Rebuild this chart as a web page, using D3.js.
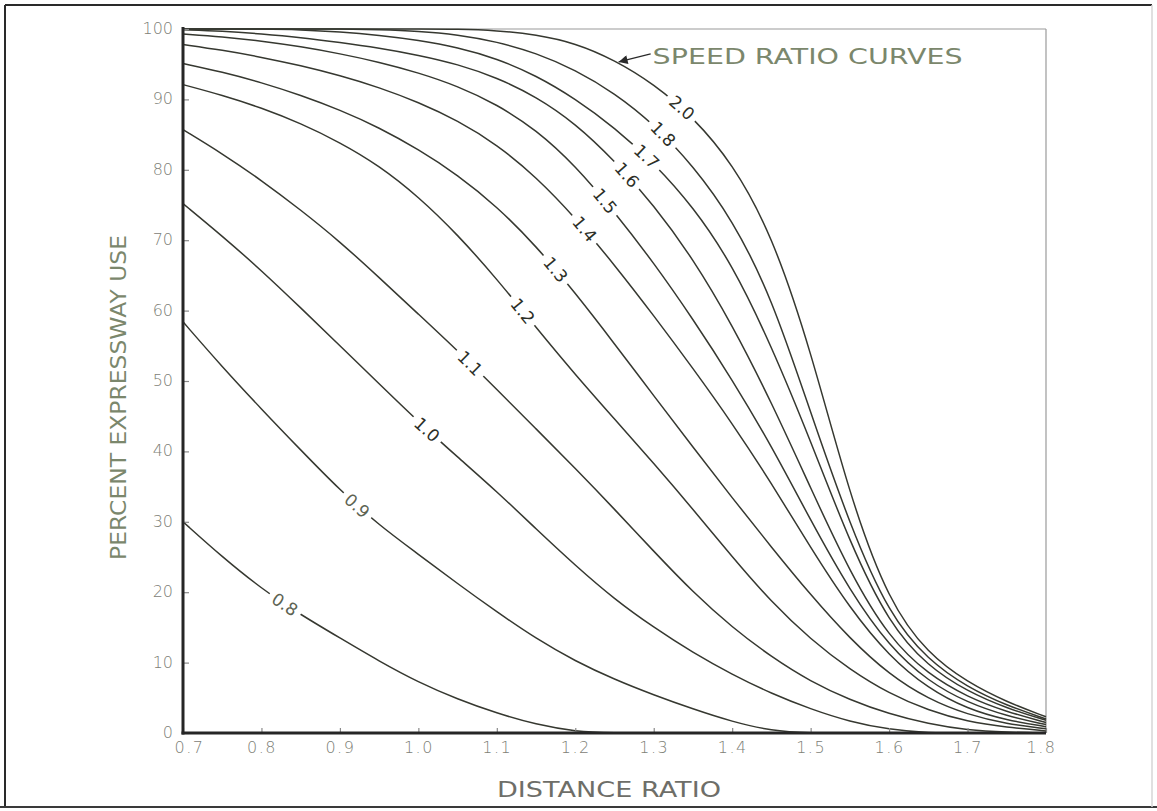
<!DOCTYPE html>
<html>
<head>
<meta charset="utf-8">
<script src="https://cdn.jsdelivr.net/npm/d3@7"></script>
<style>
  html, body { margin: 0; padding: 0; background: #ffffff; }
  svg { display: block; }
</style>
</head>
<body>
<svg id="chart" width="1157" height="811"></svg>
<script>
// ---------------- DATA ----------------
const distanceRatio = [0.70,0.75,0.80,0.85,0.90,0.95,1.00,1.05,1.10,1.15,1.20,1.25,1.30,1.35,1.40,1.45,1.50,1.55,1.60,1.65,1.70,1.75,1.80];

const speedRatios = ["0.8","0.9","1.0","1.1","1.2","1.3","1.4","1.5","1.6","1.7","1.8","2.0"];

// Percent expressway use for each speed ratio curve, at the distance ratios above
const use08 = [30.0,25.0,20.5,16.8,13.5,10.2,7.2,4.8,2.8,1.2,0.2,0,0,0,0,0,0,0,0,0,0,0,0];
const use09 = [58.4,52.0,46.0,40.2,34.5,29.5,25.4,21.2,17.2,13.4,10.2,7.6,5.4,3.4,1.6,0.3,0,0,0,0,0,0,0];
const use10 = [75.2,70.6,65.7,60.4,55.0,49.6,44.2,39.2,34.3,29.0,23.8,19.0,15.0,11.4,8.3,5.6,3.4,1.6,0.5,0,0,0,0];
const use11 = [85.7,82.3,78.5,74.3,69.8,64.7,59.5,54.3,48.8,43.2,37.6,31.8,25.8,20.0,15.0,10.8,7.3,4.7,2.7,1.3,0.4,0.1,0];
const use12 = [92.1,90.6,88.8,86.6,83.9,80.6,76.2,70.8,64.5,57.6,50.9,44.6,38.3,31.8,25.0,18.6,13.3,9.0,5.6,3.2,1.6,0.8,0.3];
const use13 = [95.1,93.9,92.4,90.6,88.5,86.0,82.9,79.3,74.8,69.2,62.5,55.3,47.9,40.6,33.4,26.4,19.6,13.4,8.3,4.8,2.6,1.3,0.6];
const use14 = [97.8,97.0,96.0,94.8,93.4,91.7,89.6,87.0,83.6,79.0,73.2,66.5,59.3,51.8,44.0,35.5,26.3,17.7,10.9,6.3,3.4,1.8,0.9];
const use15 = [99.3,98.9,98.3,97.5,96.5,95.3,93.8,91.9,89.3,85.7,80.6,74.0,66.8,58.8,50.2,40.8,30.2,20.2,12.3,7.3,4.3,2.4,1.2];
const use16 = [99.9,99.7,99.3,98.8,98.1,97.3,96.3,95.0,93.1,90.4,86.6,81.3,75.0,67.4,58.0,47.0,34.8,22.8,13.5,8.3,5.1,3.0,1.5];
const use17 = [100,100,100,99.9,99.6,99.1,98.4,97.4,95.8,93.4,90.1,86.0,81.0,74.8,66.6,55.0,41.5,27.0,15.5,9.4,5.9,3.5,1.8];
const use18 = [100,100,100,100,100,99.9,99.7,99.2,98.2,96.6,94.2,90.9,86.5,80.6,73.0,62.0,45.5,29.5,16.8,10.3,6.5,3.9,2.0];
const use20 = [100,100,100,100,100,100,100,100,99.8,99.2,98.0,95.6,92.2,87.5,81.0,71.0,54.5,33.5,18.5,11.2,7.2,4.4,2.3];

// distance ratio at which each curve carries its label
const labelAt = [0.830,0.922,1.011,1.066,1.133,1.175,1.212,1.238,1.266,1.291,1.312,1.336];

const xTicks = [0.7,0.8,0.9,1.0,1.1,1.2,1.3,1.4,1.5,1.6,1.7,1.8];
const xTickLabels = ["0.7","0.8","0.9","1.0","1.1","1.2","1.3","1.4","1.5","1.6","1.7","1.8"];
const yTicks = [0,10,20,30,40,50,60,70,80,90,100];
const yTickLabels = ["0","10","20","30","40","50","60","70","80","90","100"];

const xTitle = "DISTANCE RATIO";
const yTitle = "PERCENT EXPRESSWAY USE";
const legendText = "SPEED RATIO CURVES";
const legendArrowAt = 1.254; // where the legend arrow touches the 2.0 curve

// ---------------- DRAWING ----------------
const curves = [use08,use09,use10,use11,use12,use13,use14,use15,use16,use17,use18,use20];

const svg = d3.select("#chart");
const x = d3.scaleLinear().domain([0.7, 1.8]).range([183, 1046]);
const y = d3.scaleLinear().domain([0, 100]).range([733, 29]);

const curveColor = "#363830";
const greenGray = "#7b876c";
const tickGray = "#7d8076";

// page border (scan frame)
svg.append("line").attr("x1",5).attr("x2",1152).attr("y1",5).attr("y2",5)
  .attr("stroke","#2a2a2a").attr("stroke-width",2);
svg.append("line").attr("x1",5).attr("x2",5).attr("y1",5).attr("y2",807)
  .attr("stroke","#2a2a2a").attr("stroke-width",2);
svg.append("line").attr("x1",0).attr("x2",1157).attr("y1",807).attr("y2",807)
  .attr("stroke","#3a3a3a").attr("stroke-width",2);
svg.append("line").attr("x1",1152).attr("x2",1152).attr("y1",5).attr("y2",807)
  .attr("stroke","#d6d6d6").attr("stroke-width",1.5);

// thin top and right frame of the plot
svg.append("line").attr("x1",x(0.7)).attr("x2",x(1.8)).attr("y1",y(100)).attr("y2",y(100))
  .attr("stroke","#9a9a9a").attr("stroke-width",1.2);
svg.append("line").attr("x1",x(1.8)).attr("x2",x(1.8)).attr("y1",y(100)).attr("y2",y(0))
  .attr("stroke","#9a9a9a").attr("stroke-width",1.2);

// curves
const line = d3.line()
  .x((d, i) => x(distanceRatio[i]))
  .y(d => y(d))
  .curve(d3.curveBasis);

svg.append("g").selectAll("path").data(curves).join("path")
  .attr("d", d => line(d))
  .attr("fill","none")
  .attr("stroke",curveColor)
  .attr("stroke-width",1.5);

// helper: value of a curve at a distance ratio
function valAt(arr, xv) {
  const i = Math.max(0, Math.min(distanceRatio.length - 2, d3.bisectRight(distanceRatio, xv) - 1));
  const t = (xv - distanceRatio[i]) / (distanceRatio[i+1] - distanceRatio[i]);
  return arr[i] + (arr[i+1] - arr[i]) * t;
}

// curve labels, rotated along the curve with a gap
const labG = svg.append("g");
curves.forEach((arr, k) => {
  const xv = labelAt[k];
  const px = x(xv), py = y(valAt(arr, xv));
  const p1 = [x(xv - 0.015), y(valAt(arr, xv - 0.015))];
  const p2 = [x(xv + 0.015), y(valAt(arr, xv + 0.015))];
  const ang = Math.atan2(p2[1] - p1[1], p2[0] - p1[0]) * 180 / Math.PI;
  const g = labG.append("g").attr("transform", `translate(${px},${py}) rotate(${ang})`);
  const rect = g.append("rect").attr("fill","#ffffff");
  const t = g.append("text")
    .attr("text-anchor","middle")
    .attr("dy","0.36em")
    .attr("font-family","'DejaVu Sans', sans-serif")
    .attr("font-size",17)
    .attr("fill", (k === 0 || k === 1) ? "#5d6352" : "#2c2f27")
    .text(speedRatios[k]);
  const w = t.node().getComputedTextLength();
  rect.attr("x", -w/2 - 5).attr("y", -9).attr("width", w + 10).attr("height", 18);
});

// axes
const yAxis = d3.axisLeft(y).tickValues(yTicks).tickSize(-6).tickPadding(10)
  .tickFormat((d, i) => yTickLabels[i]);
const gy = svg.append("g").attr("transform", `translate(${x(0.7)},0)`).call(yAxis);
gy.select(".domain").remove();
gy.selectAll(".tick line").attr("stroke","#8a8a8a").attr("stroke-width",1.2);
gy.selectAll(".tick text")
  .attr("font-family","'DejaVu Sans', sans-serif")
  .attr("font-size",16)
  .attr("font-weight",200)
  .attr("dy","0.28em")
  .attr("fill",tickGray);

const xAxis = d3.axisBottom(x).tickValues(xTicks).tickSize(-5).tickPadding(9)
  .tickFormat((d, i) => xTickLabels[i]);
const gx = svg.append("g").attr("transform", `translate(0,${y(0)})`).call(xAxis);
gx.select(".domain").remove();
gx.selectAll(".tick line").attr("stroke","#8a8a8a").attr("stroke-width",1.2);
gx.selectAll(".tick text")
  .attr("font-family","'DejaVu Sans', sans-serif")
  .attr("font-size",16)
  .attr("font-weight",200)
  .attr("letter-spacing",1.5)
  .attr("fill",tickGray)
  .attr("dx", (d, i) => i === 0 ? 6 : (i === xTicks.length - 1 ? -5 : 0));

// heavy left and bottom axis lines
svg.append("line").attr("x1",x(0.7)).attr("x2",x(0.7)).attr("y1",y(100)-2).attr("y2",y(0)+1.5)
  .attr("stroke","#262626").attr("stroke-width",3);
svg.append("line").attr("x1",x(0.7)-1.5).attr("x2",x(1.8)).attr("y1",y(0)).attr("y2",y(0))
  .attr("stroke","#262626").attr("stroke-width",3);

// axis titles
svg.append("text")
  .attr("x", 0).attr("y", 0)
  .attr("transform", `translate(126,${(235+560)/2}) rotate(-90)`)
  .attr("text-anchor","middle")
  .attr("font-family","'DejaVu Sans', sans-serif")
  .attr("font-size",22)
  .attr("fill",greenGray)
  .attr("textLength",325)
  .attr("lengthAdjust","spacingAndGlyphs")
  .text(yTitle);

svg.append("text")
  .attr("x", (497+721)/2).attr("y", 797)
  .attr("text-anchor","middle")
  .attr("font-family","'DejaVu Sans', sans-serif")
  .attr("font-size",22)
  .attr("fill","#6e6e68")
  .attr("textLength",224)
  .attr("lengthAdjust","spacingAndGlyphs")
  .text(xTitle);

// legend note with arrow to the 2.0 curve
const tipX = x(legendArrowAt), tipY = y(valAt(use20, legendArrowAt));
svg.append("defs").append("marker")
  .attr("id","arrowHead").attr("viewBox","0 0 10 10")
  .attr("refX",10).attr("refY",5)
  .attr("markerWidth",14).attr("markerHeight",9)
  .attr("markerUnits","userSpaceOnUse")
  .attr("orient","auto")
  .append("path").attr("d","M0,0 L10,5 L0,10 Z").attr("fill","#2a2a2a");
svg.append("line")
  .attr("x1", tipX + 33).attr("y1", tipY - 8)
  .attr("x2", tipX + 1).attr("y2", tipY)
  .attr("stroke","#2a2a2a").attr("stroke-width",1.3)
  .attr("marker-end","url(#arrowHead)");
svg.append("text")
  .attr("x", tipX + 35).attr("y", tipY + 2)
  .attr("font-family","'DejaVu Sans', sans-serif")
  .attr("font-size",21)
  .attr("fill",greenGray)
  .attr("textLength",310)
  .attr("lengthAdjust","spacingAndGlyphs")
  .text(legendText);
</script>
</body>
</html>
